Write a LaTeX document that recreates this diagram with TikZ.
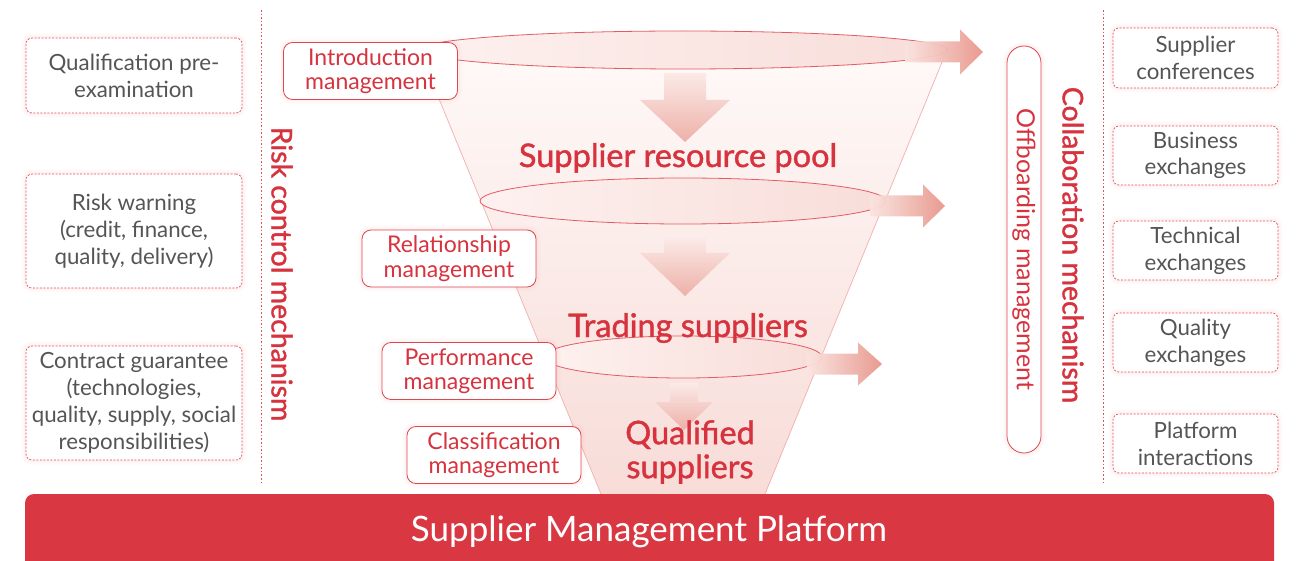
\documentclass[tikz,border=0pt]{standalone}
\usepackage{fontspec}
\setmainfont{Lato}
\newfontfamily\medfont{Lato}[FakeBold=1.3]
\usetikzlibrary{shapes.geometric}
\definecolor{redtxt}{HTML}{D7333E}
\definecolor{graytxt}{HTML}{555555}
\definecolor{dashred}{HTML}{E2505A}
\definecolor{boxred}{HTML}{DE4650}
\definecolor{barred}{HTML}{D93742}
\definecolor{ellred}{HTML}{E35C64}
\definecolor{sidered}{HTML}{F2AFAF}
\definecolor{funtop}{HTML}{FEF9F8}
\definecolor{funbot}{HTML}{F8DCD8}
\definecolor{ellleft}{HTML}{FDF1EF}
\definecolor{ellright}{HTML}{F8DDD9}
\definecolor{arrtop}{HTML}{FBEAE7}
\definecolor{arrbot}{HTML}{EEB0A8}
\definecolor{arrleft}{HTML}{FAE4E0}
\definecolor{arrright}{HTML}{E8958A}
\definecolor{glowc}{HTML}{F2A0A0}
\newcommand\grayfnt{\fontsize{22.3}{26.8}\selectfont}
\newcommand\mgmtfnt{\fontsize{23}{24.5}\selectfont}
\newcommand\bigfnt{\medfont\fontsize{32.5}{34}\selectfont}
\newcommand\barfnt{\fontsize{35}{38}\selectfont}
\newcommand\titlefnt{\medfont\fontsize{28.5}{30}\selectfont}
\newcommand\offbfnt{\fontsize{25}{26}\selectfont}
\newcommand\dnarr[6]{%
  \shade[top color=arrtop, bottom color=arrbot]
    (#1-#5,#2) -- (#1+#5,#2) -- (#1+#5,#3) -- (#1+#6,#3) -- (#1,#4) -- (#1-#6,#3) -- (#1-#5,#3) -- cycle;}
\newcommand\rtarr[6]{%
  \shade[left color=arrleft, right color=arrright, opacity=0.95]
    (#1,#4-#5) -- (#2,#4-#5) -- (#2,#4-#6) -- (#3,#4) -- (#2,#4+#6) -- (#2,#4+#5) -- (#1,#4+#5) -- cycle;}
\begin{document}
\begin{tikzpicture}[x=1pt,y=-1pt,
  divider/.style={draw=dashred, line width=1pt, dash pattern=on 1.6pt off 2pt},
  glow/.style={preaction={draw=glowc, solid, line width=9pt, draw opacity=0.05},
               preaction={draw=glowc, solid, line width=4.5pt, draw opacity=0.07}},
  sidebox/.style={glow, draw=dashred, line width=0.7pt, dash pattern=on 2pt off 1.5pt,
    rounded corners=6pt, fill=white, text=graytxt, font=\grayfnt, align=center, inner sep=0pt},
  mgmt/.style={glow, draw=boxred, line width=0.8pt, rounded corners=9pt, fill=white,
    text=redtxt, font=\mgmtfnt, align=center, minimum width=174pt, minimum height=57pt, inner sep=0pt},
  elli/.style={draw=ellred, line width=0.8pt, left color=ellleft, right color=ellright},
  sideline/.style={draw=sidered, line width=0.7pt},
  biglabel/.style={text=redtxt, font=\bigfnt, inner sep=0pt},
  title/.style={text=redtxt, font=\titlefnt, rotate=-90, inner sep=0pt}
]
\useasboundingbox (0,0) rectangle (1306,561);
\fill[white] (0,0) rectangle (1306,561);

% dividers
\coordinate (ldtop) at (261,10); \coordinate (ldbot) at (261,482);
\coordinate (rdtop) at (1103,10); \coordinate (rdbot) at (1103,482);
\draw[divider] (ldtop) -- (ldbot);
\draw[divider] (rdtop) -- (rdbot);

% left boxes
\node[sidebox, minimum width=216pt, minimum height=75pt] (qual) at (134,75.5) {Qualification pre-\\examination};
\node[sidebox, minimum width=216pt, minimum height=114pt] (risk) at (134,231) {Risk warning\\(credit, finance,\\quality, delivery)};
\node[sidebox, minimum width=216pt, minimum height=114pt] (contract) at (134,403) {Contract guarantee\\(technologies,\\quality, supply, social\\responsibilities)};

% left title
\node[title] (risktitle) at (282,274) {Risk control mechanism};

% funnel body
\coordinate (ftl) at (419,50); \coordinate (ftr) at (947,50);
\coordinate (fbl) at (601,494); \coordinate (fbr) at (765,494);
\shade[top color=funtop, bottom color=funbot] (ftl) -- (ftr) -- (fbr) -- (fbl) -- cycle;
\draw[sideline] (ftl) -- (fbl);
\draw[sideline] (ftr) -- (fbr);

% ellipses
\draw[elli] (683,50) ellipse [x radius=265pt, y radius=19pt];
\draw[elli] (683,201) ellipse [x radius=203pt, y radius=23pt];
\draw[elli] (683,357) ellipse [x radius=139pt, y radius=21pt];

% down arrows
\dnarr{685}{73}{100}{142}{21}{45}
\dnarr{685}{238}{253}{296}{21}{45}
\dnarr{684}{383}{402}{430}{14}{29}

% right arrows
\rtarr{905}{960}{983}{52}{10.5}{22.5}
\rtarr{870}{923}{945}{206}{10.5}{21.5}
\rtarr{807}{858}{882}{364}{10.5}{21.5}

% funnel labels
\node[biglabel, anchor=base] (pool) at (678,167) {Supplier resource pool};
\node[biglabel, anchor=base] (trading) at (688,337) {Trading suppliers};
\node[biglabel, align=center] (qualified) at (690,452) {Qualified\\suppliers};

% management boxes
\node[mgmt] (intro) at (370.5,71) {Introduction\\management};
\node[mgmt] (relation) at (449,258.5) {Relationship\\management};
\node[mgmt] (perf) at (469,371) {Performance\\management};
\node[mgmt] (classif) at (494,455) {Classification\\management};

% offboarding pill
\node[glow, draw=boxred, line width=0.8pt, fill=white, rounded corners=17pt, rotate=-90,
  minimum width=407pt, minimum height=34pt, inner sep=0pt, text=redtxt, font=\offbfnt]
  (offb) at (1024,249.5) {Offboarding management};

% right title
\node[title] (collab) at (1073,245) {Collaboration mechanism};

% right boxes
\node[sidebox, minimum width=165pt, minimum height=60pt] (conf) at (1195.5,58) {Supplier\\conferences};
\node[sidebox, minimum width=165pt, minimum height=59pt] (busi) at (1195.5,155.5) {Business\\exchanges};
\node[sidebox, minimum width=165pt, minimum height=59pt] (tech) at (1195.5,250.5) {Technical\\exchanges};
\node[sidebox, minimum width=165pt, minimum height=59pt] (qualx) at (1195.5,342.5) {Quality\\exchanges};
\node[sidebox, minimum width=165pt, minimum height=59pt] (plat) at (1195.5,443.5) {Platform\\interactions};

% bottom bar
\fill[barred, rounded corners=9pt] (25,494) rectangle (1274,600);
\node[text=white, font=\barfnt, inner sep=0pt] (platform) at (649,532) {Supplier Management Platform};
\end{tikzpicture}
\end{document}
